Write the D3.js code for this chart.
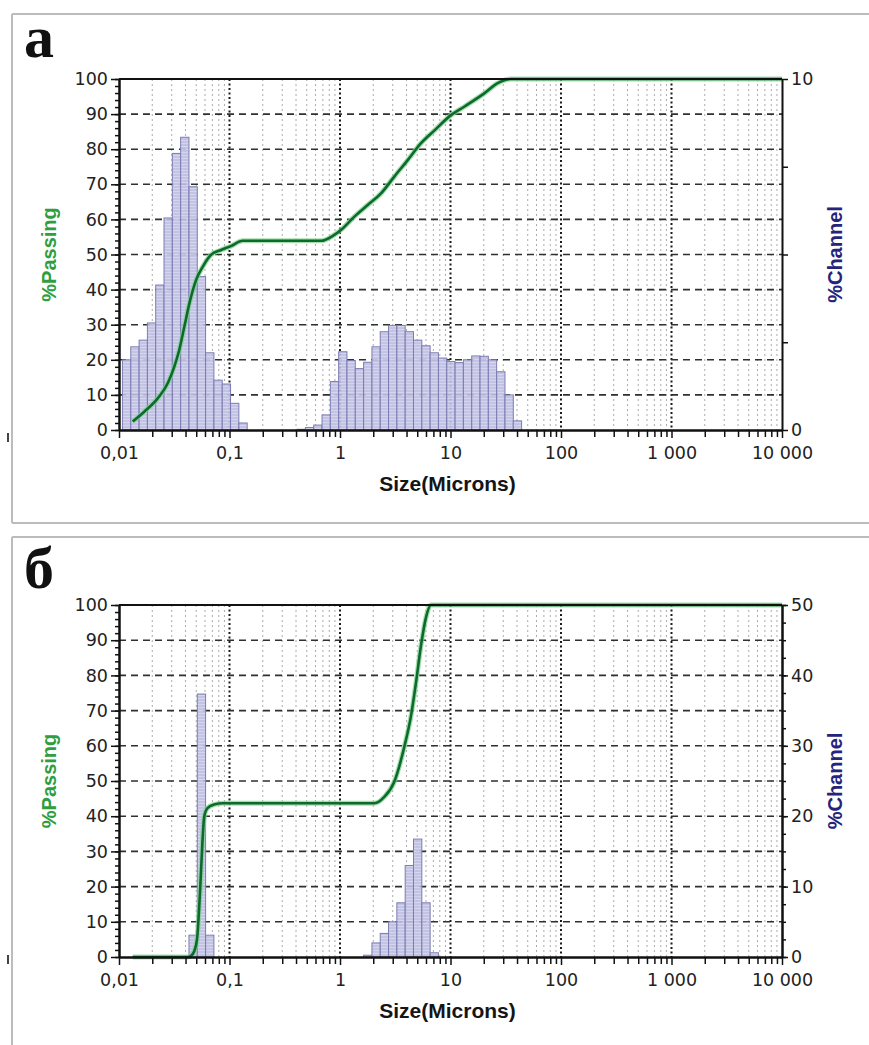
<!DOCTYPE html>
<html>
<head>
<meta charset="utf-8">
<script src="https://cdn.jsdelivr.net/npm/d3@7"></script>
<style>
  body { margin: 0; background: #fff; }
  svg { display: block; }
</style>
</head>
<body>
<svg id="chart" width="869" height="1045"></svg>
<script>
// Channel boundaries (microns), geometric progression of the analyser
const channelEdges = [0.01074, 0.01278, 0.0152, 0.01807, 0.02148, 0.02555, 0.03038, 0.03613, 0.04297, 0.0511,
  0.06077, 0.07227, 0.08594, 0.1022, 0.1215, 0.1445, 0.1719, 0.2044, 0.2431, 0.2891,
  0.3438, 0.4088, 0.4862, 0.5782, 0.6875, 0.8176, 0.9723, 1.156, 1.375, 1.635,
  1.945, 2.312, 2.75, 3.27, 3.889, 4.625, 5.5, 6.541, 7.778, 9.25,
  11, 13.08, 15.56, 18.5, 22, 26.16, 31.11, 37, 44, 52.33];

// % in each channel, sample "а"
const channelA = [2.0, 2.37, 2.56, 3.05, 4.13, 6.04, 7.88, 8.34, 6.93, 4.37,
  2.2, 1.42, 1.31, 0.76, 0.2, 0, 0, 0, 0, 0,
  0, 0.02, 0.07, 0.14, 0.43, 1.38, 2.23, 1.98, 1.75, 1.93,
  2.37, 2.8, 2.98, 2.98, 2.8, 2.56, 2.4, 2.2, 2.05, 1.95,
  1.92, 2.0, 2.11, 2.1, 2.0, 1.66, 1.0, 0.26, 0];

// % in each channel, sample "б"
const channelB = [0, 0, 0, 0, 0, 0, 0, 0, 3.1, 37.35,
  3.1, 0, 0, 0, 0, 0, 0, 0, 0, 0,
  0, 0, 0, 0, 0, 0, 0, 0, 0, 0.25,
  2.0, 3.35, 5.0, 7.7, 13.0, 16.75, 7.7, 0.6, 0, 0,
  0, 0, 0, 0, 0, 0, 0, 0, 0];

// Cumulative % passing: [size, %]
const passingA = [[0.0133, 2.4], [0.0169, 5.2], [0.0224, 9.0], [0.0276, 13.3], [0.0316, 18], [0.0351, 22.8],
  [0.039, 29.4], [0.0433, 36], [0.0498, 42.7], [0.0572, 46.5], [0.068, 49.9], [0.0838, 51.3],
  [0.103, 52.4], [0.1316, 53.9], [0.673, 53.9], [0.888, 55.6], [1.02, 57], [1.35, 60.8],
  [1.78, 64.1], [2.35, 67.4], [3.10, 72.2], [4.10, 76.9], [5.41, 81.7], [7.13, 85.3],
  [10.1, 89.7], [13.3, 92.1], [20.2, 95.9], [26.7, 98.8], [35.3, 100], [10000, 100]];

const passingB = [[0.0133, 0], [0.0419, 0], [0.04483, 0.3], [0.04772, 1.5], [0.0508, 5], [0.05441, 20],
  [0.05697, 33], [0.05912, 40], [0.06322, 42.3], [0.0724, 43.3], [0.08735, 43.7], [2.044, 43.7],
  [2.518, 45.5], [3.1, 49.8], [3.818, 59.7], [4.391, 68.5], [4.874, 78], [5.408, 88.5],
  [6.001, 96.5], [6.661, 100], [10000, 100]];

const sizeTicks = [0.01, 0.1, 1, 10, 100, 1000, 10000];
const sizeTickLabels = ["0,01", "0,1", "1", "10", "100", "1 000", "10 000"];
const passingTicks = [0, 10, 20, 30, 40, 50, 60, 70, 80, 90, 100];
const channelTicksA = [0, 2.5, 5, 7.5, 10];
const channelLabelsA = [0, 10];
const channelTicksB = [0, 10, 20, 30, 40, 50];
const panelLetters = ["а", "б"];

const svg = d3.select("#chart");
const defs = svg.append("defs");
const pat = defs.append("pattern").attr("id", "barFill")
  .attr("patternUnits", "userSpaceOnUse").attr("width", 6).attr("height", 3);
pat.append("rect").attr("width", 6).attr("height", 3).attr("fill", "#bdbde1");
pat.append("rect").attr("y", 2).attr("width", 6).attr("height", 1).attr("fill", "#d0d0ee");

const X0 = 119, X1 = 782;
const x = d3.scaleLog().domain([0.01, 10000]).range([X0, X1]);

const tickFont = "'DejaVu Sans', sans-serif";
const titleFont = "'Liberation Sans', Arial, sans-serif";

const minorSizes = [];
for (let k = -2; k <= 3; k++) for (let m = 2; m <= 9; m++) minorSizes.push(m * Math.pow(10, k));
const majorInner = sizeTicks.slice(1, -1);

const panels = [
  { letter: panelLetters[0], frameTop: 14, frameBottom: 523, letterY: 57, top: 79, bottom: 430,
    markY: 433, chMax: 10, chTicks: channelTicksA, chLabels: channelLabelsA, chMinor: [],
    channel: channelA, passing: passingA },
  { letter: panelLetters[1], frameTop: 537, frameBottom: null, letterY: 588, top: 605, bottom: 957,
    markY: 955, chMax: 50, chTicks: channelTicksB, chLabels: channelTicksB, chMinor: d3.range(0, 50.01, 2.5),
    channel: channelB, passing: passingB }
];

function styleAxis(g) {
  g.select(".domain").attr("stroke", "#111").attr("stroke-width", 2);
  g.selectAll(".tick line").attr("stroke", "#111").attr("stroke-width", 1.5);
  g.selectAll(".tick text").attr("font-family", tickFont).attr("font-size", 17.5).attr("fill", "#222");
}

panels.forEach(p => {
  const g = svg.append("g");
  const y = d3.scaleLinear().domain([0, 100]).range([p.bottom, p.top]);
  const yc = d3.scaleLinear().domain([0, p.chMax]).range([p.bottom, p.top]);

  // panel frame
  const fb = p.frameBottom === null ? 1050 : p.frameBottom;
  g.append("line").attr("x1", 12).attr("x2", 869).attr("y1", p.frameTop).attr("y2", p.frameTop)
    .attr("stroke", "#bcbcbc").attr("stroke-width", 2);
  g.append("line").attr("x1", 12).attr("x2", 12).attr("y1", p.frameTop).attr("y2", fb)
    .attr("stroke", "#bcbcbc").attr("stroke-width", 2);
  if (p.frameBottom !== null) {
    g.append("line").attr("x1", 12).attr("x2", 869).attr("y1", fb).attr("y2", fb)
      .attr("stroke", "#bcbcbc").attr("stroke-width", 2);
  }
  g.append("rect").attr("x", 7).attr("y", p.markY).attr("width", 2).attr("height", 9).attr("fill", "#444");

  // panel letter
  g.append("text").attr("x", 24).attr("y", p.letterY).text(p.letter)
    .attr("font-family", "'Liberation Serif', 'DejaVu Serif', serif").attr("font-weight", "bold")
    .attr("font-size", 60).attr("fill", "#111");

  // grid
  g.append("g").selectAll("line").data(minorSizes).join("line")
    .attr("x1", d => x(d)).attr("x2", d => x(d)).attr("y1", p.top).attr("y2", p.bottom)
    .attr("stroke", "#ababab").attr("stroke-width", 1).attr("stroke-dasharray", "2,3");
  g.append("g").selectAll("line").data(majorInner).join("line")
    .attr("x1", d => x(d)).attr("x2", d => x(d)).attr("y1", p.top).attr("y2", p.bottom)
    .attr("stroke", "#1a1a1a").attr("stroke-width", 2).attr("stroke-dasharray", "2,2.5");
  g.append("g").selectAll("line").data(passingTicks.slice(1, -1)).join("line")
    .attr("x1", X0).attr("x2", X1).attr("y1", d => y(d)).attr("y2", d => y(d))
    .attr("stroke", "#2b332b").attr("stroke-width", 1.6).attr("stroke-dasharray", "7,5");

  // channel histogram
  const bars = p.channel.map((v, i) => ({ lo: channelEdges[i], hi: channelEdges[i + 1], v })).filter(d => d.v > 0);
  g.append("g").selectAll("rect").data(bars).join("rect")
    .attr("x", d => x(d.lo)).attr("width", d => x(d.hi) - x(d.lo))
    .attr("y", d => yc(d.v)).attr("height", d => p.bottom - yc(d.v))
    .attr("fill", "url(#barFill)").attr("fill-opacity", 0.9)
    .attr("stroke", "#7c7cb2").attr("stroke-width", 1);

  // cumulative passing curve
  const line = d3.line().x(d => x(d[0])).y(d => y(d[1])).curve(d3.curveMonotoneX);
  g.append("path").datum(p.passing).attr("d", line).attr("fill", "none")
    .attr("stroke", "#7fd08c").attr("stroke-width", 5).attr("stroke-opacity", 0.7);
  g.append("path").datum(p.passing).attr("d", line).attr("fill", "none")
    .attr("stroke", "#0b6a2c").attr("stroke-width", 2.6);

  // axes
  const left = g.append("g").attr("transform", `translate(${X0},0)`)
    .call(d3.axisLeft(y).tickValues(passingTicks).tickSize(8).tickSizeOuter(0).tickPadding(3));
  styleAxis(left);
  const leftMinor = g.append("g").attr("transform", `translate(${X0},0)`)
    .call(d3.axisLeft(y).tickValues(d3.range(0, 101, 2)).tickSize(4).tickSizeOuter(0).tickFormat(""));
  styleAxis(leftMinor);

  const bottom = g.append("g").attr("transform", `translate(0,${p.bottom})`)
    .call(d3.axisBottom(x).tickValues(sizeTicks).tickFormat((d, i) => sizeTickLabels[i])
      .tickSize(8).tickSizeOuter(0).tickPadding(9));
  styleAxis(bottom);
  const bottomMinor = g.append("g").attr("transform", `translate(0,${p.bottom})`)
    .call(d3.axisBottom(x).tickValues(minorSizes).tickSize(7).tickSizeOuter(0).tickFormat(""));
  styleAxis(bottomMinor);

  const right = g.append("g").attr("transform", `translate(${X1},0)`)
    .call(d3.axisRight(yc).tickValues(p.chTicks).tickSize(6).tickSizeOuter(0).tickPadding(3)
      .tickFormat(d => p.chLabels.includes(d) ? d : ""));
  styleAxis(right);
  if (p.chMinor.length) {
    const rightMinor = g.append("g").attr("transform", `translate(${X1},0)`)
      .call(d3.axisRight(yc).tickValues(p.chMinor).tickSize(4).tickSizeOuter(0).tickFormat(""));
    styleAxis(rightMinor);
  }

  // top border of plot area
  g.append("line").attr("x1", X0).attr("x2", X1).attr("y1", p.top).attr("y2", p.top)
    .attr("stroke", "#111").attr("stroke-width", 2);

  // titles
  const mid = (p.top + p.bottom) / 2;
  g.append("text").attr("x", (X0 + X1) / 2 - 3).attr("y", p.bottom + 61).text("Size(Microns)")
    .attr("text-anchor", "middle").attr("font-family", titleFont).attr("font-weight", "bold")
    .attr("font-size", 21).attr("fill", "#151515");
  g.append("text").attr("transform", `translate(56,${mid}) rotate(-90)`).text("%Passing")
    .attr("text-anchor", "middle").attr("font-family", titleFont).attr("font-weight", "bold")
    .attr("font-size", 20).attr("fill", "#2f9e3f");
  g.append("text").attr("transform", `translate(842,${mid}) rotate(-90)`).text("%Channel")
    .attr("text-anchor", "middle").attr("font-family", titleFont).attr("font-weight", "bold")
    .attr("font-size", 20).attr("fill", "#24247c");
});
</script>
</body>
</html>
